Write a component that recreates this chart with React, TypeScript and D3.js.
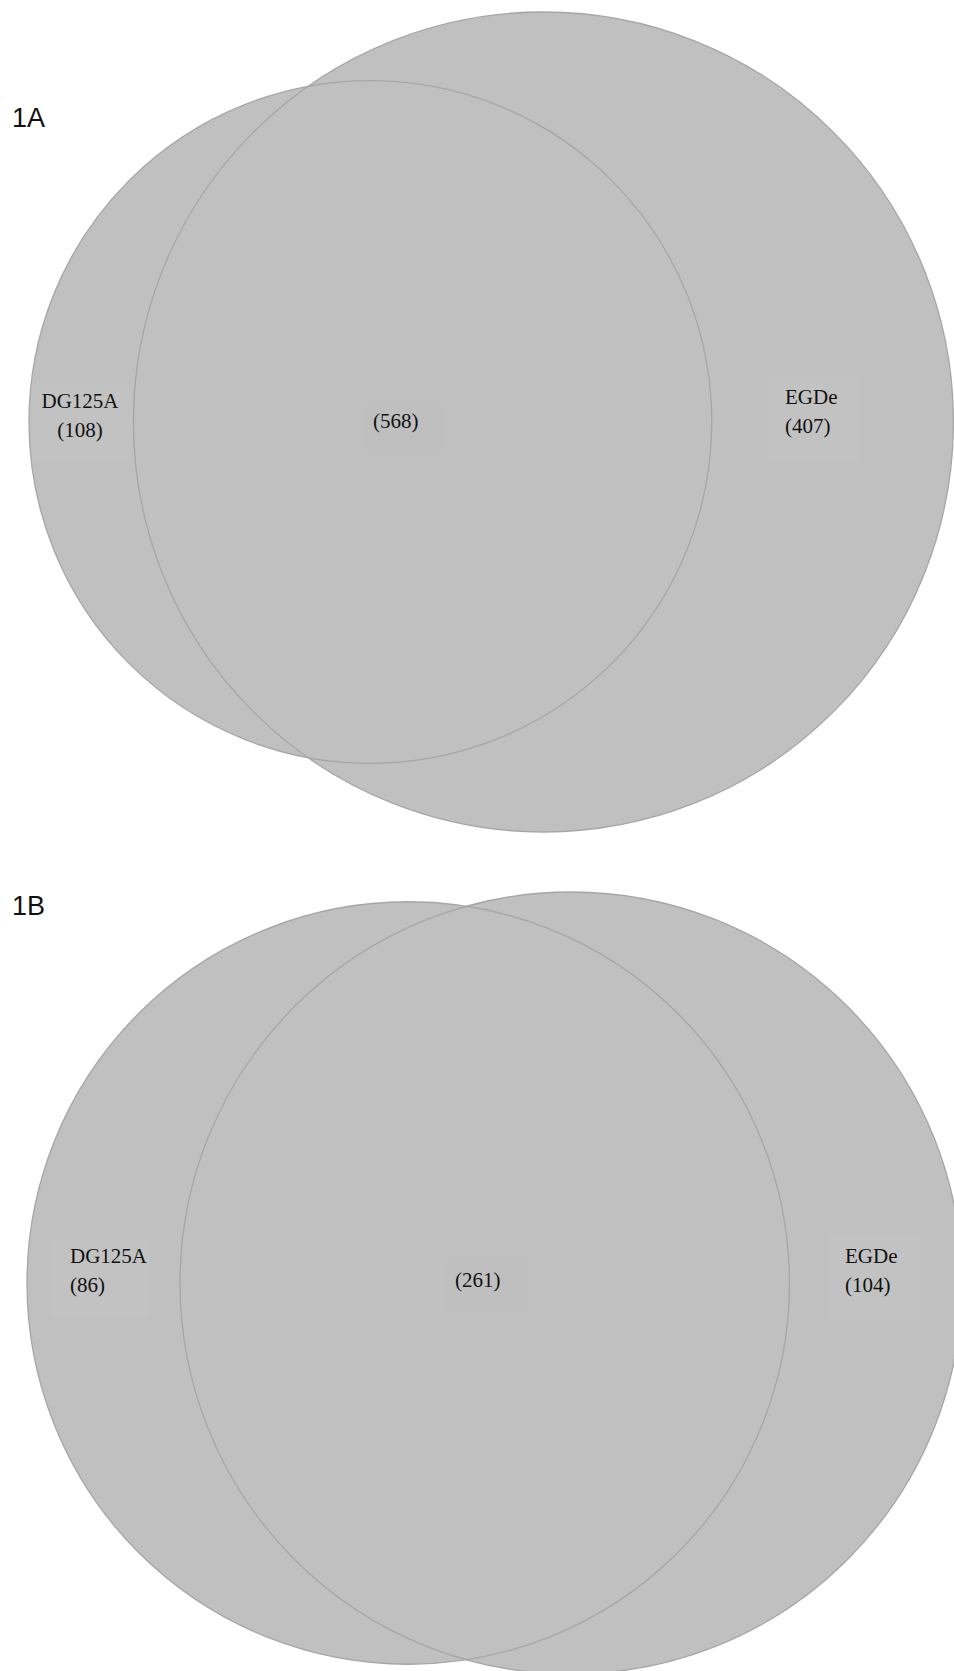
import React from "react";
import * as d3 from "d3";

// ---- data ----
const panelNames = ["1A", "1B"];
const setNames = ["DG125A", "EGDe"];
const onlyLeft = [108, 86];
const shared = [568, 261];
const onlyRight = [407, 104];

// ---- layout ----
const W = 954;
const H = 1671;
const panelLayout = [
  { x0: 29, cy: 422, rMax: 410, titleY: 127, leftAnchor: "middle", leftX: 80, leftY: 408, midX: 373, midY: 428, rightX: 785, rightY: 404 },
  { x0: 27, cy: 1283, rMax: 391, titleY: 915, leftAnchor: "start", leftX: 70, leftY: 1263, midX: 455, midY: 1287, rightX: 845, rightY: 1263 },
];

function lensArea(r1: number, r2: number, d: number) {
  if (d >= r1 + r2) return 0;
  if (d <= Math.abs(r1 - r2)) return Math.PI * Math.min(r1, r2) ** 2;
  const a1 = r1 * r1 * Math.acos((d * d + r1 * r1 - r2 * r2) / (2 * d * r1));
  const a2 = r2 * r2 * Math.acos((d * d + r2 * r2 - r1 * r1) / (2 * d * r2));
  const t = 0.5 * Math.sqrt((-d + r1 + r2) * (d + r1 - r2) * (d - r1 + r2) * (d + r1 + r2));
  return a1 + a2 - t;
}

function solveDistance(r1: number, r2: number, target: number) {
  let lo = Math.abs(r1 - r2) + 1e-6;
  let hi = r1 + r2;
  for (let i = 0; i < 80; i++) {
    const mid = (lo + hi) / 2;
    if (lensArea(r1, r2, mid) > target) lo = mid;
    else hi = mid;
  }
  return (lo + hi) / 2;
}

const FILL = "#c0c0c0";
const STROKE = "#a6a6a6";
const SERIF = "'Liberation Serif', 'Times New Roman', serif";
const SANS = "'Liberation Sans', Arial, sans-serif";

function Panel({ i }: { i: number }) {
  const L = panelLayout[i];
  const totL = onlyLeft[i] + shared[i];
  const totR = onlyRight[i] + shared[i];
  const rScale = d3.scaleSqrt().domain([0, Math.max(totL, totR)]).range([0, L.rMax]);
  const r1 = rScale(totL);
  const r2 = rScale(totR);
  const unitArea = (Math.PI * r1 * r1) / totL;
  const d = solveDistance(r1, r2, shared[i] * unitArea);
  const cx1 = L.x0 + r1;
  const cx2 = cx1 + d;
  const circles = [
    { cx: cx1, r: r1 },
    { cx: cx2, r: r2 },
  ];
  const fs = 21;
  return (
    <g>
      <text x={12} y={L.titleY} fontFamily={SANS} fontSize={27} fill="#111">
        {panelNames[i]}
      </text>
      {circles.map((c, k) => (
        <circle key={"f" + k} cx={c.cx} cy={L.cy} r={c.r} fill={FILL} />
      ))}
      {/* faint label boxes */}
      <rect x={L.leftAnchor === "middle" ? L.leftX - 48 : L.leftX - 20} y={L.leftY - 24} width={100} height={78} fill="#c2c2c2" />
      <rect x={L.midX - 11} y={L.midY - 26} width={84} height={50} fill="#bebebe" opacity={0.5} />
      <rect x={L.rightX - 17} y={L.rightY - 29} width={92} height={87} fill="#c2c2c2" />
      {circles.map((c, k) => (
        <circle key={"s" + k} cx={c.cx} cy={L.cy} r={c.r} fill="none" stroke={STROKE} strokeWidth={1.3} />
      ))}
      <g fontFamily={SERIF} fontSize={fs} fill="#111">
        <text x={L.leftX} y={L.leftY} textAnchor={L.leftAnchor}>{setNames[0]}</text>
        <text x={L.leftX} y={L.leftY + 29} textAnchor={L.leftAnchor}>{`(${onlyLeft[i]})`}</text>
        <text x={L.midX} y={L.midY}>{`(${shared[i]})`}</text>
        <text x={L.rightX} y={L.rightY}>{setNames[1]}</text>
        <text x={L.rightX} y={L.rightY + 29}>{`(${onlyRight[i]})`}</text>
      </g>
    </g>
  );
}

export default function App() {
  return (
    <svg
      width={W}
      height={H}
      viewBox={`0 0 ${W} ${H}`}
      style={{ position: "absolute", left: 0, top: 0, background: "#fff" }}
    >
      <rect width={W} height={H} fill="#fff" />
      {panelNames.map((_, i) => (
        <Panel key={i} i={i} />
      ))}
    </svg>
  );
}
